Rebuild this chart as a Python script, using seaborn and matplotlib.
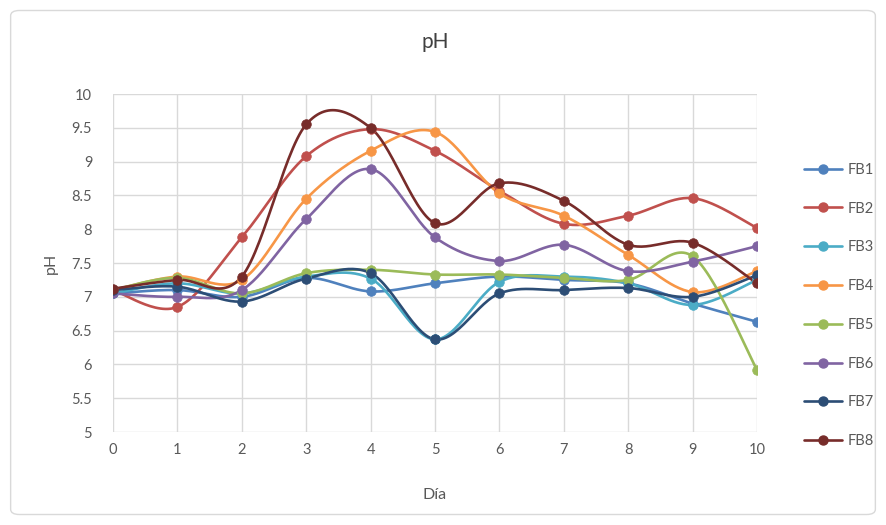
import numpy as np
import pandas as pd
import matplotlib
matplotlib.use("Agg")
import matplotlib.pyplot as plt
import seaborn as sns
from matplotlib.lines import Line2D
from matplotlib.patches import FancyBboxPatch

# Data
dias = [0, 1, 2, 3, 4, 5, 6, 7, 8, 9, 10]
fb1 = [7.05, 7.10, 7.00, 7.28, 7.08, 7.20, 7.30, 7.25, 7.20, 6.90, 6.63]
fb2 = [7.10, 6.85, 7.88, 9.08, 9.48, 9.16, 8.57, 8.08, 8.20, 8.46, 8.02]
fb3 = [7.05, 7.20, 7.05, 7.30, 7.27, 6.37, 7.22, 7.30, 7.20, 6.88, 7.25]
fb4 = [7.10, 7.30, 7.25, 8.45, 9.16, 9.44, 8.53, 8.20, 7.62, 7.07, 7.38]
fb5 = [7.10, 7.28, 7.05, 7.35, 7.40, 7.33, 7.33, 7.28, 7.25, 7.60, 5.92]
fb6 = [7.05, 7.00, 7.10, 8.15, 8.89, 7.88, 7.53, 7.77, 7.38, 7.52, 7.75]
fb7 = [7.10, 7.15, 6.93, 7.27, 7.35, 6.37, 7.05, 7.10, 7.13, 7.00, 7.32]
fb8 = [7.12, 7.25, 7.30, 9.55, 9.50, 8.09, 8.68, 8.42, 7.77, 7.80, 7.20]

series = ["FB1", "FB2", "FB3", "FB4", "FB5", "FB6", "FB7", "FB8"]
values = [fb1, fb2, fb3, fb4, fb5, fb6, fb7, fb8]
colors = ["#4F81BD", "#C0504D", "#4BACC6", "#F79646",
          "#9BBB59", "#8064A2", "#2C4D75", "#772C2A"]


def smooth(x, y, n=30):
    # Excel-style smoothed line: Catmull-Rom segments through the points
    x = np.asarray(x, float)
    y = np.asarray(y, float)
    px = np.concatenate([[x[0]], x, [x[-1]]])
    py = np.concatenate([[y[0]], y, [y[-1]]])
    xs, ys = [], []
    t = np.linspace(0, 1, n)
    for i in range(1, len(px) - 2):
        p0 = np.array([px[i], py[i]])
        p3 = np.array([px[i + 1], py[i + 1]])
        c1 = p0 + (p3 - np.array([px[i - 1], py[i - 1]])) / 6
        c2 = p3 - (np.array([px[i + 2], py[i + 2]]) - p0) / 6
        b = ((1 - t) ** 3)[:, None] * p0 + (3 * (1 - t) ** 2 * t)[:, None] * c1 \
            + (3 * (1 - t) * t ** 2)[:, None] * c2 + (t ** 3)[:, None] * p3
        xs.extend(b[:, 0])
        ys.extend(b[:, 1])
    return xs, ys


sns.set_style("white")
plt.rcParams["font.family"] = ["Lato", "DejaVu Sans"]

fig = plt.figure(figsize=(8.86, 5.25), dpi=100)
ax = fig.add_axes([0.1275, 0.1771, 0.7269, 0.6438])

for name, vals, col in zip(series, values, colors):
    sx, sy = smooth(dias, vals)
    curve = pd.DataFrame({"x": sx, "y": sy})
    sns.lineplot(data=curve, x="x", y="y", sort=False, color=col, lw=1.9, ax=ax,
                 zorder=2)
    pts = pd.DataFrame({"x": dias, "y": vals})
    sns.scatterplot(data=pts, x="x", y="y", color=col, s=48, edgecolor=col,
                    linewidth=0.5, ax=ax, zorder=3)

ax.set_xlim(0, 10)
ax.set_ylim(5, 10)
ax.set_xticks(dias)
ax.set_yticks(np.arange(5, 10.01, 0.5))
ax.set_yticklabels(["5", "5.5", "6", "6.5", "7", "7.5", "8", "8.5", "9", "9.5", "10"])
ax.grid(True, color="#D9D9D9", lw=1)
ax.set_axisbelow(True)
for s in ax.spines.values():
    s.set_visible(False)
ax.tick_params(length=0, labelsize=10.5, colors="#595959")
ax.tick_params(axis="x", pad=8)
ax.tick_params(axis="y", pad=15)
ax.set_title("pH", fontsize=15, color="#404040", pad=33)
ax.set_xlabel("Día", fontsize=11.5, color="#595959", labelpad=22)
ax.set_ylabel("pH", fontsize=11.5, color="#595959", labelpad=10)

handles = [Line2D([0], [0], color=c, lw=1.9, marker="o", markersize=6.5)
           for c in colors]
fig.legend(handles, series, loc="upper left", bbox_to_anchor=(0.893, 0.715),
           frameon=False, fontsize=10.5, labelspacing=1.70, handlelength=2.6,
           handletextpad=0.4, labelcolor="#595959")

border = FancyBboxPatch((0.012, 0.02), 0.976, 0.96, boxstyle="round,pad=0,rounding_size=0.01",
                        transform=fig.transFigure, fill=False, edgecolor="#D9D9D9", lw=1)
fig.patches.append(border)

fig.savefig("out.png", dpi=100)
